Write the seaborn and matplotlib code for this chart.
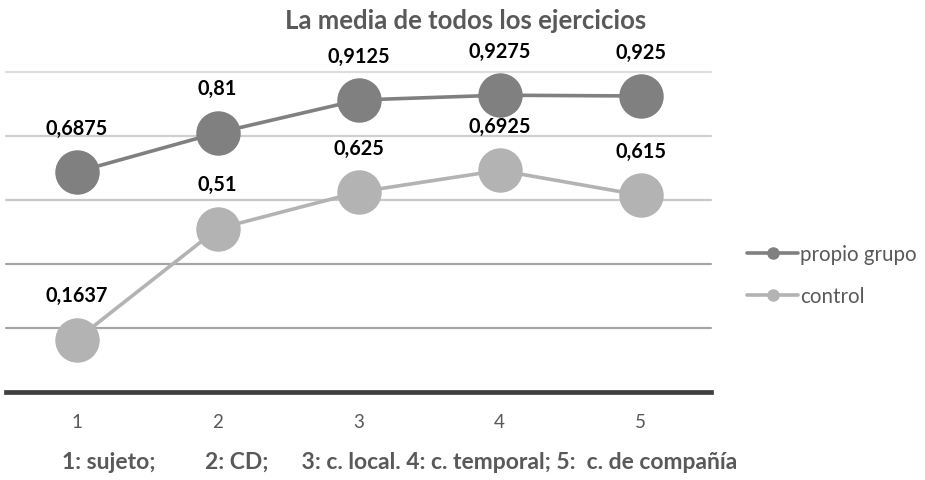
import pandas as pd
import numpy as np

import matplotlib.pyplot as plt
from matplotlib.lines import Line2D
import seaborn as sns


# DATA
categorias = [1, 2, 3, 4, 5]
propio_grupo = [0.6875, 0.81, 0.9125, 0.9275, 0.925]
control = [0.1637, 0.51, 0.625, 0.6925, 0.615]
etiquetas_propio = ["0,6875", "0,81", "0,9125", "0,9275", "0,925"]
etiquetas_control = ["0,1637", "0,51", "0,625", "0,6925", "0,615"]
series = ["propio grupo", "control"]
colores = ["#808080", "#b3b3b3"]

titulo = "La media de todos los ejercicios"
nota = "1: sujeto;         2: CD;      3: c. local. 4: c. temporal; 5:  c. de compañía"


# LONG FORMAT
df = pd.DataFrame({
    "x": categorias * 2,
    "valor": propio_grupo + control,
    "serie": [series[0]] * 5 + [series[1]] * 5,
})


# STYLE
sns.set_style("white")
plt.rcParams['font.family'] = ['Lato', 'DejaVu Sans']

fig = plt.figure(figsize=(9.25, 4.81), dpi=100)
ax = fig.add_axes([6 / 925, 88 / 481, 705 / 925, 320 / 481])


# LINES
sns.lineplot(
    data=df,
    x="x",
    y="valor",
    hue="serie",
    palette=colores,
    marker="o",
    markersize=32,
    markeredgewidth=0,
    linewidth=2.6,
    legend=False,
    ax=ax
)


# DATA LABELS
for vals, labs in [(propio_grupo, etiquetas_propio), (control, etiquetas_control)]:
    for xv, yv, lab in zip(categorias, vals, labs):
        ax.annotate(
            lab,
            (xv, yv),
            xytext=(0, 32),
            textcoords="offset points",
            ha="center",
            va="center",
            fontsize=14.3,
            fontweight="bold",
            color="#000000",
            annotation_clip=False
        )


# AXES
ax.set_xlim(0.5, 5.5)
ax.set_ylim(0, 1.0)
ax.set_yticks([0.2, 0.4, 0.6, 0.8, 1.0])
ax.set_yticklabels([])
ax.set_xticks(categorias)
ax.set_xticklabels([str(c) for c in categorias])
ax.tick_params(axis="x", length=0, pad=15, labelsize=13.5, labelcolor="#595959")
ax.tick_params(axis="y", length=0)
ax.set_xlabel("")
ax.set_ylabel("")

ax.grid(axis="y", linewidth=1.6)
grid_cols = ["#a6a6a6", "#a6a6a6", "#c8c8c8", "#cfcfcf", "#dedede"]
for gl, c in zip(ax.yaxis.get_gridlines(), grid_cols):
    gl.set_color(c)
    gl.set_clip_on(False)
ax.set_axisbelow(True)

for s in ["top", "left", "right"]:
    ax.spines[s].set_visible(False)
ax.spines["bottom"].set_color("#404040")
ax.spines["bottom"].set_linewidth(3.4)


# LEGEND
handles = [
    Line2D([0], [0], color=c, lw=2.6, marker="o", markersize=9, markeredgewidth=0)
    for c in colores
]
leg = fig.legend(
    handles,
    series,
    loc="center left",
    bbox_to_anchor=(747 / 925, 1 - 276 / 481),
    bbox_transform=fig.transFigure,
    frameon=False,
    fontsize=14.8,
    handlelength=2.5,
    handletextpad=0.1,
    labelspacing=1.05,
    borderpad=0,
    borderaxespad=0
)
for t in leg.get_texts():
    t.set_color("#595959")


# TITLE AND NOTE
fig.text(466 / 925, 1 - 21 / 481, titulo, ha="center", va="center",
         fontsize=18.5, fontweight="bold", color="#595959")
fig.text(62 / 925, 1 - 463 / 481, nota, ha="left", va="center",
         fontsize=16.5, fontweight="bold", color="#595959")

fig.savefig("out.png", dpi=100)
